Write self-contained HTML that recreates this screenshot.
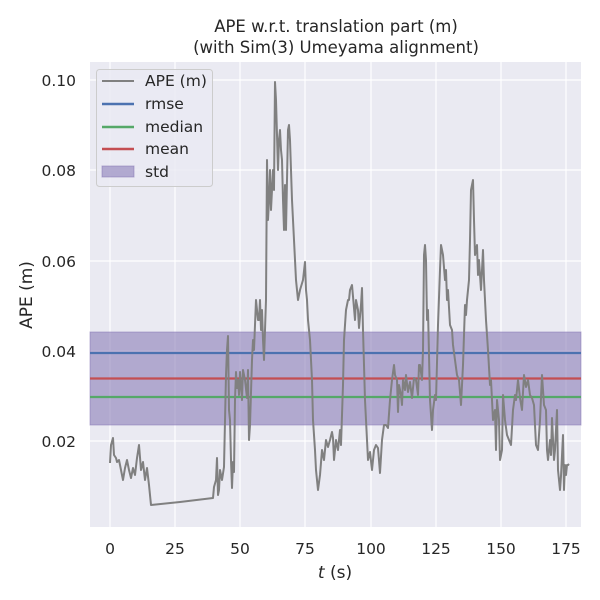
<!DOCTYPE html>
<html><head><style>body{margin:0;background:#fff}svg{display:block}</style></head>
<body>
<svg width="600" height="600" xmlns="http://www.w3.org/2000/svg" font-family="DejaVu Sans, Liberation Sans, sans-serif">
<rect width="600" height="600" fill="#fff"/>
<rect x="90" y="62" width="491" height="465" fill="#eaeaf2"/>
<g stroke="#fff" stroke-width="1.2">
<line x1="110" y1="62" x2="110" y2="527"/><line x1="175" y1="62" x2="175" y2="527"/><line x1="240" y1="62" x2="240" y2="527"/><line x1="305" y1="62" x2="305" y2="527"/><line x1="371" y1="62" x2="371" y2="527"/><line x1="436" y1="62" x2="436" y2="527"/><line x1="501" y1="62" x2="501" y2="527"/><line x1="566" y1="62" x2="566" y2="527"/>
<line x1="90" y1="80" x2="581" y2="80"/><line x1="90" y1="170" x2="581" y2="170"/><line x1="90" y1="261" x2="581" y2="261"/><line x1="90" y1="351" x2="581" y2="351"/><line x1="90" y1="441" x2="581" y2="441"/>
</g>
<rect x="90" y="332" width="491" height="93" fill="#8172b2" fill-opacity="0.55" stroke="#8172b2" stroke-opacity="0.5"/>
<line x1="90" y1="353" x2="581" y2="353" stroke="#4c72b0" stroke-width="2.2"/>
<line x1="90" y1="378.5" x2="581" y2="378.5" stroke="#c44e52" stroke-width="2.2"/>
<line x1="90" y1="397" x2="581" y2="397" stroke="#55a868" stroke-width="2.2"/>
<polyline fill="none" stroke="#808080" stroke-width="2" stroke-linejoin="round" points="110,463 111,445 113,438 114,455 116,458 117,462 119,460 121,470 123,480 125,468 127,460 129,470 131,478 133,468 135,475 137,458 139,445 141,470 143,462 145,480 147,468 149,485 151,505 180,502 213,498 214,487 216,480 217,458 218,495 219,490 220,470 222,480 224,467 226,375 227,350 228,336 229,410 230,420 231,460 232,488 233,462 234,472 235,400 236,372 237,388 238,380 239,395 240,372 242,400 243,370 245,380 247,398 248,370 249,440 250,425 252,360 253,340 254,350 256,300 258,320 259,320 260,300 261,330 262,310 263,340 264,360 265,330 266,300 267,160 268,220 269,200 270,170 271,210 273,170 274,190 275,82 276,100 278,170 279,140 280,130 281,150 282,160 283,200 284,230 285,185 286,230 287,180 288,130 289,125 290,140 292,200 294,240 296,280 298,300 300,290 303,280 305,262 306,290 307,300 308,320 310,340 312,380 313,420 315,450 316,470 318,490 320,475 322,450 324,460 326,440 328,447 330,440 332,432 333,438 334,460 336,440 338,450 340,430 341,445 343,385 344,340 346,310 348,300 349,300 350,290 352,285 354,308 355,320 356,300 358,310 359,328 361,305 362,288 363,330 365,400 367,440 368,460 370,452 372,470 374,450 376,445 378,448 380,473 382,440 384,425 386,425 388,428 390,400 392,380 394,365 395,375 397,380 398,412 399,385 401,395 402,405 403,380 405,390 406,375 408,392 410,382 412,398 414,378 416,380 418,395 419,365 420,365 422,380 423,350 424,255 425,245 426,260 427,320 428,310 430,400 432,430 433,410 435,395 436,400 438,325 440,270 441,245 443,255 445,280 446,270 447,300 448,290 450,325 452,330 453,345 455,360 457,375 459,380 461,405 463,365 465,305 466,315 467,300 469,280 470,240 471,190 473,180 474,220 475,255 477,245 478,275 479,260 481,290 483,250 484,280 486,320 488,350 490,385 491,380 493,420 495,410 496,450 497,400 499,420 500,460 502,450 503,395 505,420 507,435 509,440 511,445 513,410 515,395 516,400 518,380 520,398 522,410 524,375 526,387 528,380 530,395 532,398 534,405 536,445 538,450 540,420 542,375 544,405 546,410 547,450 548,460 550,440 551,455 552,418 554,460 555,450 557,410 558,470 560,490 561,476 563,435 564,490 565,465 566,475 567,465 568,465 569,464"/>
<g>
<rect x="96.5" y="69.5" width="116" height="117" rx="3" fill="#eaeaf2" fill-opacity="0.8" stroke="#cccccc"/>
<line x1="102" y1="81" x2="134" y2="81" stroke="#808080" stroke-width="2"/>
<line x1="102" y1="104" x2="134" y2="104" stroke="#4c72b0" stroke-width="2.5"/>
<line x1="102" y1="127" x2="134" y2="127" stroke="#55a868" stroke-width="2.5"/>
<line x1="102" y1="149" x2="134" y2="149" stroke="#c44e52" stroke-width="2.5"/>
<rect x="102" y="166" width="32" height="11" fill="#8172b2" fill-opacity="0.55" stroke="#8172b2" stroke-opacity="0.5"/>
<g font-size="15.5" fill="#262626">
<text x="145" y="86">APE (m)</text>
<text x="145" y="109">rmse</text>
<text x="145" y="132">median</text>
<text x="145" y="154">mean</text>
<text x="145" y="177">std</text>
</g>
</g>
<g font-size="15.5" fill="#262626" text-anchor="middle">
<text x="336" y="32" font-size="16.5">APE w.r.t. translation part (m)</text>
<text x="336" y="53" font-size="16.5">(with Sim(3) Umeyama alignment)</text>
<text x="110" y="554">0</text><text x="175" y="554">25</text><text x="240" y="554">50</text><text x="305" y="554">75</text><text x="371" y="554">100</text><text x="436" y="554">125</text><text x="501" y="554">150</text><text x="566" y="554">175</text>
<text x="335" y="578" font-size="17"><tspan font-style="italic">t</tspan> (s)</text>
</g>
<g font-size="15.5" fill="#262626" text-anchor="end">
<text x="76" y="86">0.10</text><text x="76" y="176">0.08</text><text x="76" y="267">0.06</text><text x="76" y="357">0.04</text><text x="76" y="447">0.02</text>
</g>
<text transform="translate(32,295) rotate(-90)" font-size="17" fill="#262626" text-anchor="middle">APE (m)</text>
</svg>
</body></html>
